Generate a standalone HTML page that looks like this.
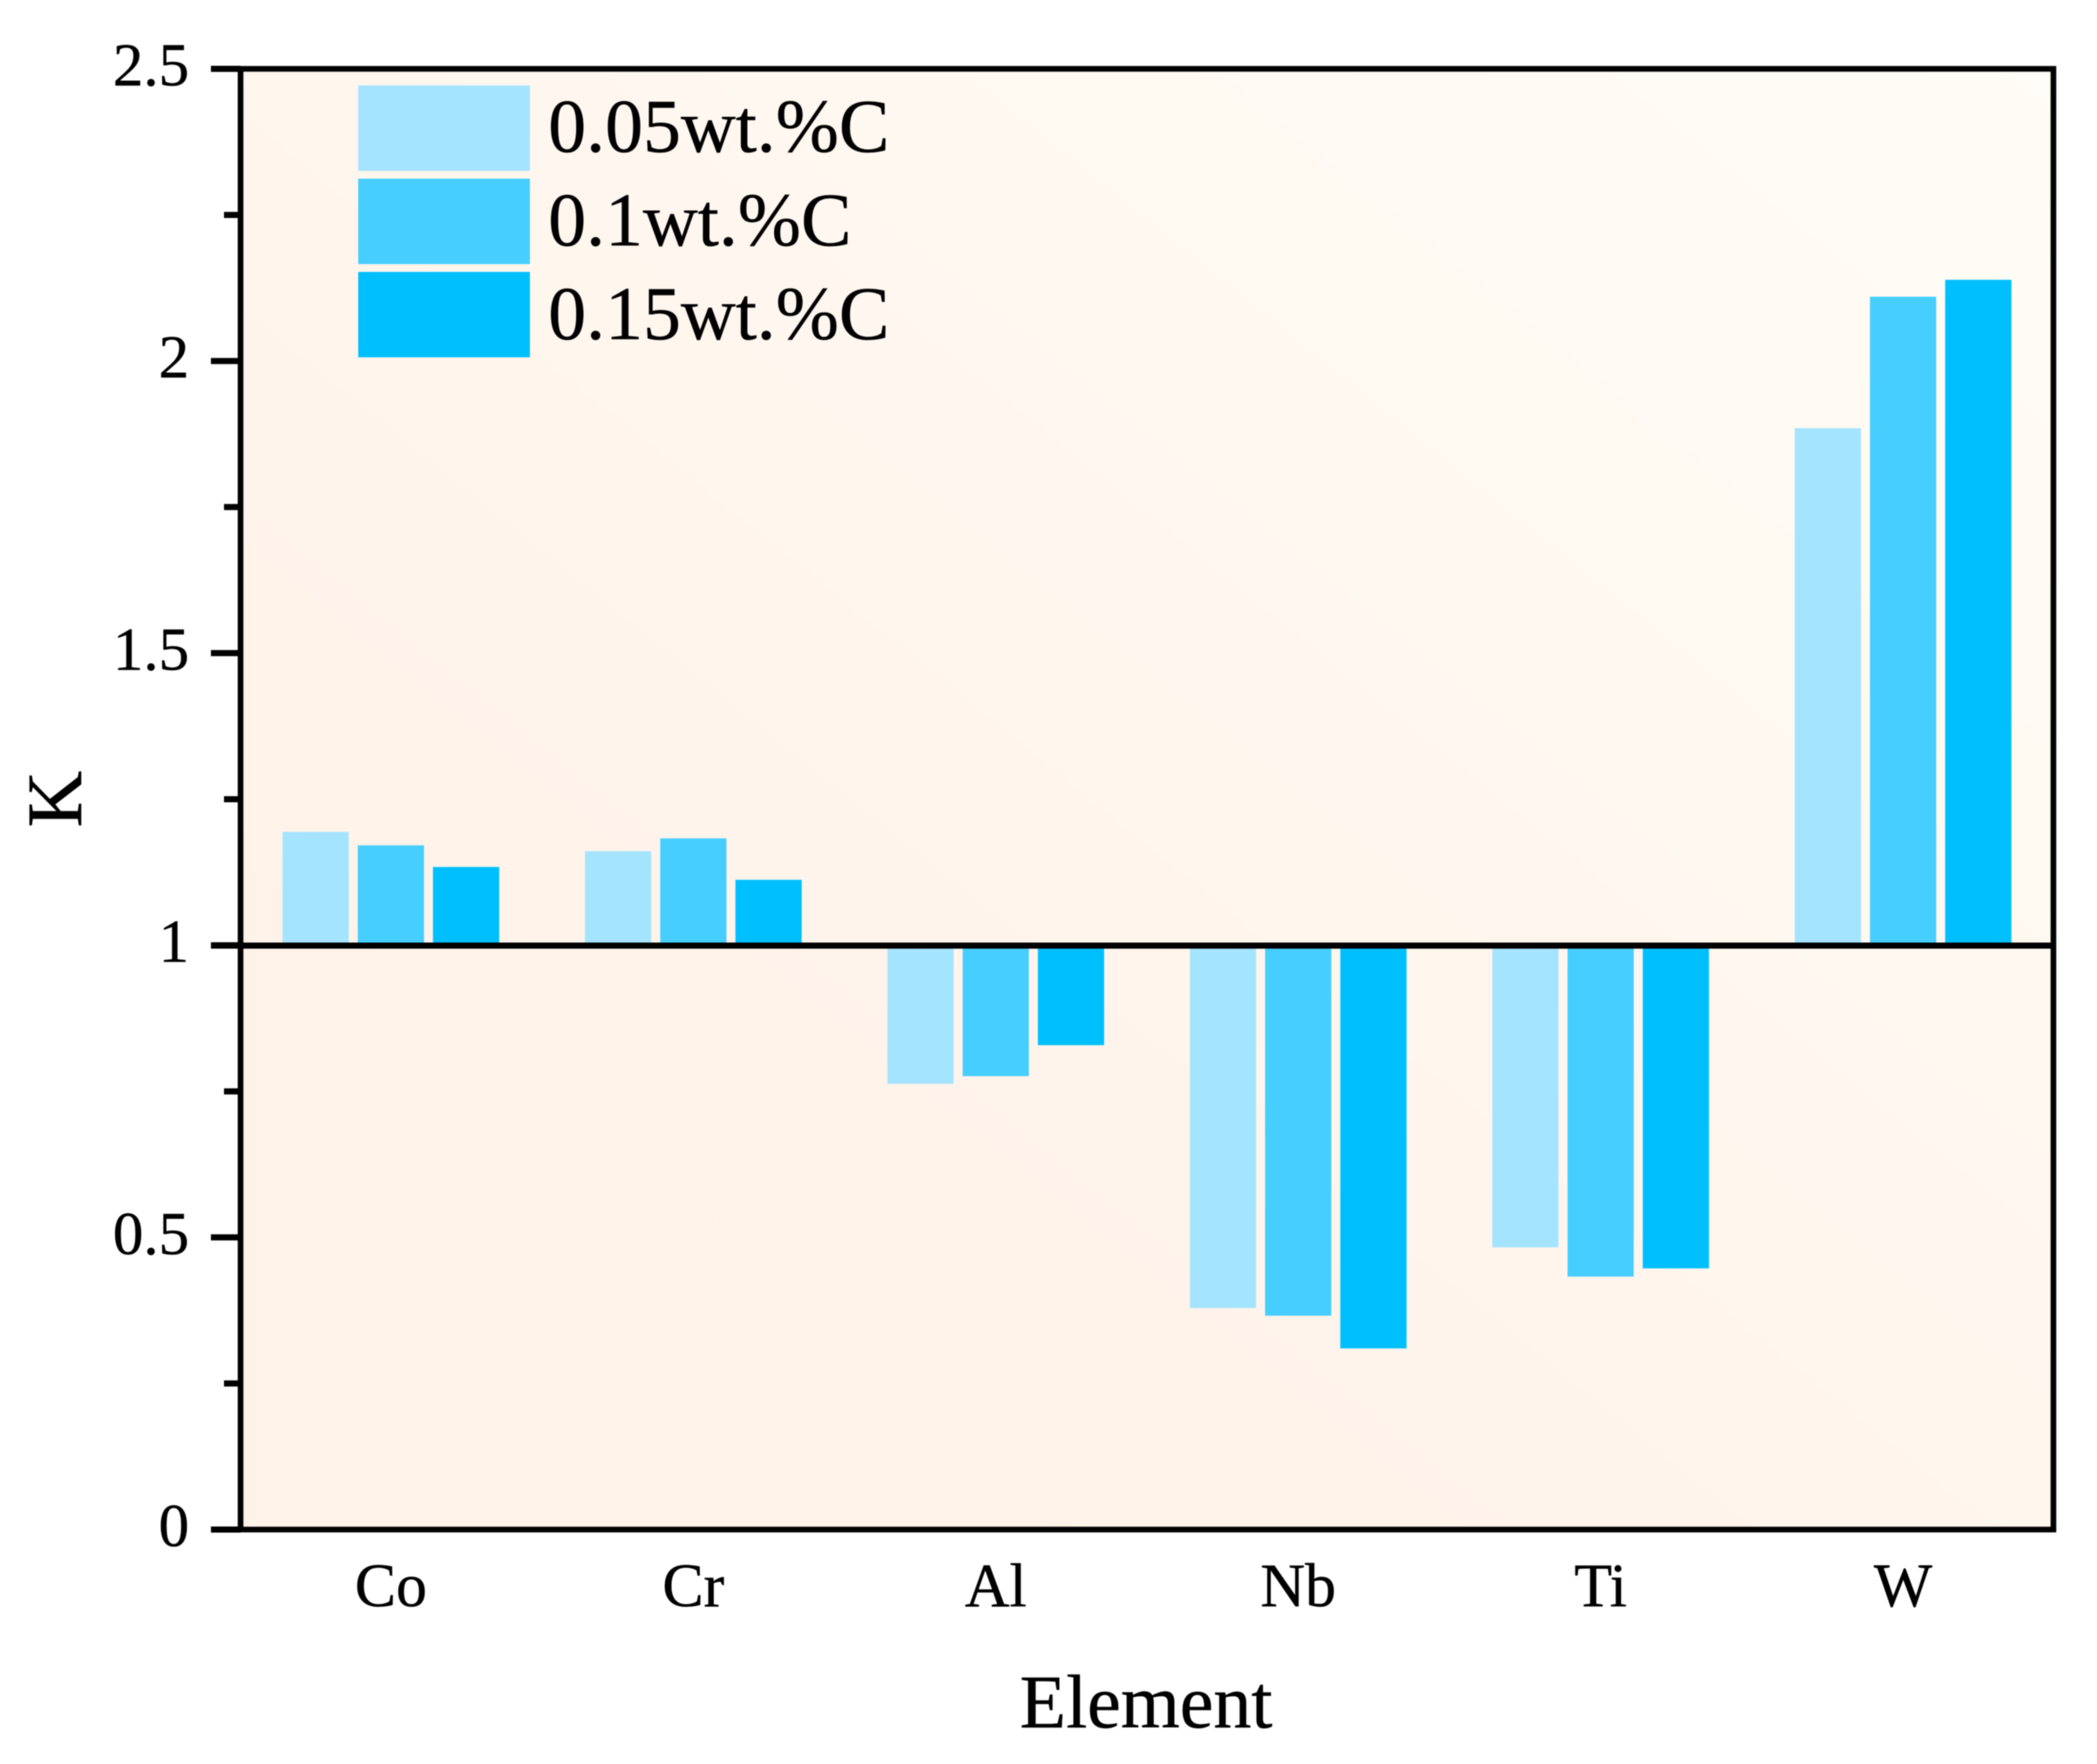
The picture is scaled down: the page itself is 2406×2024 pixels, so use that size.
<!DOCTYPE html>
<html lang="en">
<head>
<meta charset="utf-8">
<title>K by element</title>
<style>
html,body{margin:0;padding:0;background:#fff;}
svg{display:block;filter:blur(0.5px);}
text{font-family:"Liberation Serif","Times New Roman",serif;fill:#000;stroke:#000;stroke-width:0.5px;}
</style>
</head>
<body>
<svg id="chart" xmlns="http://www.w3.org/2000/svg" width="2406" height="2024" viewBox="0 0 2406 2024">
  <defs>
    <linearGradient id="plotBg" x1="0" y1="1" x2="1" y2="0">
      <stop offset="0" stop-color="#fff2e9"/>
      <stop offset="0.3" stop-color="#fff3ea"/>
      <stop offset="0.5" stop-color="#fff6ee"/>
      <stop offset="1" stop-color="#fffdf7"/>
    </linearGradient>
  </defs>
  <rect x="0" y="0" width="2406" height="2024" fill="#ffffff"/>
  <rect x="276" y="79" width="2080" height="1676" fill="url(#plotBg)"/>
  <g id="bars"></g>
  <g id="yticks"></g>
  <g id="xlabels"></g>
  <line x1="242" x2="2356" y1="1085" y2="1085" stroke="#000" stroke-width="7"/>
  <rect x="276" y="79" width="2080" height="1676" fill="none" stroke="#000" stroke-width="6.5"/>
  <text transform="translate(93,917) rotate(-90)" text-anchor="middle" font-size="90">K</text>
  <text x="1315" y="1982" text-anchor="middle" font-size="87">Element</text>
  <g id="legend"></g>
</svg>
<script>
const categories = ["Co", "Cr", "Al", "Nb", "Ti", "W"];
const seriesNames = ["0.05wt.%C", "0.1wt.%C", "0.15wt.%C"];
const series005 = [1.194, 1.161, 0.763, 0.379, 0.483, 1.885];
const series010 = [1.171, 1.183, 0.776, 0.366, 0.433, 2.110];
const series015 = [1.134, 1.112, 0.829, 0.310, 0.447, 2.139];
const yMajorTicks = [0, 0.5, 1, 1.5, 2, 2.5];
const yMinorTicks = [0.25, 0.75, 1.25, 1.75, 2.25];
const seriesValues = [series005, series010, series015];
const seriesColors = ["#a5e4ff", "#46ceff", "#00bfff"];

const NS = "http://www.w3.org/2000/svg";
const plotLeft = 276, plotTop = 79, plotBottom = 1755;
const bandLeft = 275, bandRight = 2357;
const yMin = 0, yMax = 2.5, baseline = 1;
const barWidth = 76, barStep = 86.3;

function yScale(v) {
  return plotBottom - (v - yMin) / (yMax - yMin) * (plotBottom - plotTop);
}
function xScale(i) {
  return bandLeft + (i + 0.5) / categories.length * (bandRight - bandLeft);
}
function make(tag, parent) {
  const el = document.createElementNS(NS, tag);
  parent.appendChild(el);
  return el;
}

const barsGroup = document.getElementById("bars");
seriesValues.forEach(function (values, s) {
  values.forEach(function (v, i) {
    const r = make("rect", barsGroup);
    
    
    const top = Math.min(yScale(v), yScale(baseline));
    const bottom = Math.max(yScale(v), yScale(baseline));
    r.setAttribute("x", xScale(i) + (s - 1) * barStep - barWidth / 2);
    r.setAttribute("y", top);
    r.setAttribute("width", barWidth);
    r.setAttribute("height", bottom - top);
    r.setAttribute("fill", seriesColors[s]);
  });
});

const tickGroup = document.getElementById("yticks");
yMajorTicks.forEach(function (t) {
  const l = make("line", tickGroup);
  
  
  l.setAttribute("x1", plotLeft - 34);
  l.setAttribute("x2", plotLeft);
  l.setAttribute("y1", yScale(t));
  l.setAttribute("y2", yScale(t));
  l.setAttribute("stroke", "#000");
  l.setAttribute("stroke-width", "7");
  const tx = make("text", tickGroup);
  
  
  tx.setAttribute("x", 217);
  tx.setAttribute("y", yScale(t) + 19);
  tx.setAttribute("text-anchor", "end");
  tx.setAttribute("font-size", "70");
  tx.textContent = String(t);
});
yMinorTicks.forEach(function (t) {
  const l = make("line", tickGroup);
  
  
  l.setAttribute("x1", plotLeft - 19);
  l.setAttribute("x2", plotLeft);
  l.setAttribute("y1", yScale(t));
  l.setAttribute("y2", yScale(t));
  l.setAttribute("stroke", "#000");
  l.setAttribute("stroke-width", "7");
});

const xGroup = document.getElementById("xlabels");
categories.forEach(function (c, i) {
  const tx = make("text", xGroup);
  
  
  tx.setAttribute("x", xScale(i));
  tx.setAttribute("y", 1843);
  tx.setAttribute("text-anchor", "middle");
  tx.setAttribute("font-size", "71");
  tx.textContent = c;
});

const legendGroup = document.getElementById("legend");
seriesNames.forEach(function (name, s) {
  const sw = make("rect", legendGroup);
  
  
  sw.setAttribute("x", 411);
  sw.setAttribute("y", 98 + s * 107);
  sw.setAttribute("width", 197);
  sw.setAttribute("height", 98);
  sw.setAttribute("fill", seriesColors[s]);
  const tx = make("text", legendGroup);
  
  
  tx.setAttribute("x", 629);
  tx.setAttribute("y", 174 + s * 107.5);
  tx.setAttribute("font-size", "87");
  tx.textContent = name;
});
</script>
</body>
</html>
